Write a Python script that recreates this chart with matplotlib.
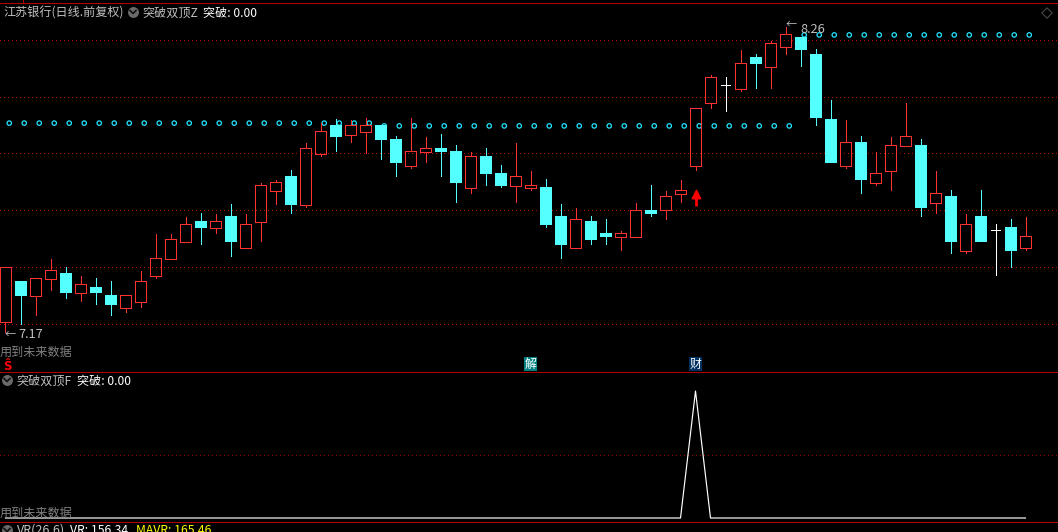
import matplotlib
matplotlib.use("Agg")
import matplotlib.pyplot as plt

plt.rcParams['font.family'] = ['Noto Sans CJK SC', 'DejaVu Sans']

opens = [
    7.206, 7.351, 7.299, 7.359, 7.380, 7.309, 7.330, 7.301, 7.256, 7.277,
    7.370, 7.431, 7.491, 7.565, 7.541, 7.583, 7.470, 7.563, 7.674, 7.726,
    7.624, 7.806, 7.908, 7.874, 7.884, 7.908, 7.858, 7.762, 7.813, 7.826,
    7.815, 7.684, 7.797, 7.737, 7.691, 7.684, 7.687, 7.583, 7.470, 7.565,
    7.522, 7.509, 7.509, 7.605, 7.604, 7.663, 7.763, 7.988, 8.050, 8.038,
    8.151, 8.116, 8.188, 8.223, 8.162, 7.930, 7.763, 7.848, 7.702, 7.745,
    7.834, 7.837, 7.631, 7.655, 7.459, 7.583, 7.532, 7.544, 7.470,
]
closes = [
    7.400, 7.301, 7.361, 7.389, 7.313, 7.339, 7.313, 7.269, 7.300, 7.350,
    7.432, 7.500, 7.554, 7.544, 7.564, 7.494, 7.554, 7.693, 7.704, 7.626,
    7.825, 7.886, 7.869, 7.908, 7.908, 7.858, 7.776, 7.815, 7.826, 7.815,
    7.705, 7.797, 7.737, 7.694, 7.725, 7.693, 7.555, 7.483, 7.571, 7.501,
    7.512, 7.521, 7.604, 7.594, 7.654, 7.675, 7.968, 8.079, 8.050, 8.129,
    8.130, 8.201, 8.232, 8.180, 7.937, 7.776, 7.846, 7.715, 7.736, 7.836,
    7.868, 7.615, 7.664, 7.494, 7.554, 7.494, 7.532, 7.462, 7.511,
]
highs = [
    7.400, 7.351, 7.362, 7.430, 7.400, 7.369, 7.362, 7.351, 7.301, 7.387,
    7.519, 7.519, 7.580, 7.594, 7.590, 7.626, 7.590, 7.701, 7.712, 7.748,
    7.844, 7.915, 7.930, 7.926, 7.933, 7.908, 7.869, 7.933, 7.865, 7.876,
    7.837, 7.812, 7.826, 7.765, 7.844, 7.744, 7.715, 7.626, 7.612, 7.583,
    7.573, 7.530, 7.630, 7.694, 7.673, 7.712, 7.968, 8.087, 8.080, 8.176,
    8.162, 8.208, 8.260, 8.223, 8.180, 7.998, 7.926, 7.869, 7.812, 7.865,
    7.987, 7.858, 7.744, 7.676, 7.590, 7.676, 7.555, 7.573, 7.580,
]
lows = [
    7.170, 7.198, 7.230, 7.319, 7.291, 7.280, 7.269, 7.230, 7.240, 7.258,
    7.362, 7.431, 7.491, 7.483, 7.522, 7.440, 7.470, 7.494, 7.626, 7.594,
    7.615, 7.799, 7.815, 7.849, 7.809, 7.787, 7.726, 7.755, 7.776, 7.726,
    7.633, 7.665, 7.694, 7.687, 7.633, 7.676, 7.544, 7.433, 7.470, 7.483,
    7.483, 7.462, 7.509, 7.583, 7.573, 7.633, 7.748, 7.970, 7.959, 8.030,
    8.040, 8.040, 8.162, 8.119, 7.908, 7.776, 7.755, 7.665, 7.694, 7.676,
    7.834, 7.583, 7.594, 7.451, 7.451, 7.494, 7.373, 7.401, 7.462,
]

# resistance dots, one level per stretch of days
dot_levels = [7.915] * 25 + [7.905] * 28 + [8.230] * 16
grid_levels = [8.211, 8.007, 7.807, 7.604, 7.400, 7.196]
signal = [0] * 46 + [1] + [0] * 22
arrow_low, arrow_high = 7.619, 7.661

RED = "#ff3232"
CYAN = "#54ffff"
GRID = "#c00000"
LINE = "#b00000"
GRAY = "#c0c0c0"
DIM = "#808080"
PX = 0.72  # one pixel in points at dpi 100

W, H = 1058, 532


def pixel_axes(fig, top, bottom):
    ax = fig.add_axes([0, 1 - bottom / H, 1, (bottom - top) / H])
    ax.set_facecolor("black")
    ax.set_xlim(-5.5 / 15, (W - 5.5) / 15)
    ax.set_xticks([])
    ax.set_yticks([])
    for s in ax.spines.values():
        s.set_visible(False)
    return ax


fig = plt.figure(figsize=(W / 100, H / 100), dpi=100, facecolor="black")

ax = pixel_axes(fig, 3, 371)
ax.set_ylim(7.0296, 8.344)

for level in grid_levels:
    ax.axhline(level, color=GRID, lw=PX, ls=(0, (1, 3)), zorder=1, antialiased=False)

ax.scatter([i + 0.25 for i in range(len(dot_levels))], dot_levels, s=10,
           facecolors="none", edgecolors="#22e6ff", linewidths=0.9, zorder=2)

for i in range(len(opens)):
    o, c, h, l = opens[i], closes[i], highs[i], lows[i]
    if o == c:
        ax.vlines(i, l, h, color="white", lw=PX, zorder=3, antialiased=False)
        ax.hlines(o, i - 0.33, i + 0.33, color="white", lw=PX, zorder=3, antialiased=False)
    elif c > o:
        ax.vlines(i, c, h, color=RED, lw=PX, zorder=3, antialiased=False)
        ax.vlines(i, l, o, color=RED, lw=PX, zorder=3, antialiased=False)
        ax.bar(i, c - o, bottom=o, width=0.7, facecolor="none",
               edgecolor=RED, linewidth=PX, zorder=3, antialiased=False)
    else:
        ax.vlines(i, l, h, color=CYAN, lw=PX, zorder=3, antialiased=False)
        ax.bar(i, c - o, bottom=o, width=0.72, facecolor=CYAN,
               edgecolor=CYAN, linewidth=PX, zorder=3, antialiased=False)

# buy arrow under the breakout candle
ax.vlines(46, arrow_low, arrow_high, color="#ff0000", lw=2, zorder=4)
ax.scatter([46], [arrow_high], marker="^", s=38, color="#ff0000", zorder=4)

sub = pixel_axes(fig, 372, 520)
sub.set_ylim(-0.0157, 1.15)
sub.axhline(0.5, color="#a00000", lw=PX, ls=(0, (1, 3)), antialiased=False)
sub.plot(range(len(signal)), signal, color="white", lw=0.85)

# overlay in image pixels for the labels and panel lines
top = fig.add_axes([0, 0, 1, 1], zorder=10)
top.set_xlim(0, W)
top.set_ylim(H, 0)
top.axis("off")
top.patch.set_alpha(0)

for y in [2, 371, 521]:
    top.plot([0, W], [y + 0.5, y + 0.5], color=LINE, lw=PX, antialiased=False)
top.plot([22.5, 22.5], [0, 2], color=LINE, lw=PX, antialiased=False)


def label(x, y, s, color=GRAY, size=8.7, **kw):
    top.text(x, y, s, color=color, fontsize=size, va="baseline", ha="left", **kw)


def chevron(x, y):
    top.scatter([x], [y], s=62, color="#6a6a6a", linewidths=0, clip_on=False)
    top.plot([x - 3, x, x + 3], [y - 1.5, y + 1.5, y - 1.5], color="#101010", lw=1.2,
             clip_on=False)


label(3, 17, "江苏银行(日线.前复权)", size=8.7)
chevron(133, 12)
label(142, 17, "突破双顶Z")
label(203, 17, "突破: 0.00", color="white")
label(5, 338, "←", size=8)
label(18, 338, "7.17", size=9.2)
label(786, 28, "←", size=8)
label(800, 33, "8.26", size=9.2)
label(0, 356, "用到未来数据", color=DIM)
label(3, 370, "Ŝ", color="#ff0000", size=8.5, fontweight="bold")
chevron(7, 380)
label(16, 385, "突破双顶F")
label(77, 385, "突破: 0.00", color="white")
label(0, 517, "用到未来数据", color=DIM)
chevron(7, 530)
label(17, 534, "VR(26,6)", size=9)
label(70, 534, "VR: 156.34", color="white", size=8.8)
label(136, 534, "MAVR: 165.46", color="#ffff00", size=8.8)

top.text(530.5, 364, "解", color="white", fontsize=8.6, ha="center", va="center",
         bbox=dict(boxstyle="square,pad=0.08", facecolor="#007f7f", edgecolor="none"))
top.text(695.5, 364, "财", color="white", fontsize=8.6, ha="center", va="center",
         bbox=dict(boxstyle="square,pad=0.08", facecolor="#003060", edgecolor="none"))
top.scatter([1047], [13], marker="D", s=28, facecolors="none", edgecolors="#505050",
            linewidths=0.7)

fig.savefig("out.png", dpi=100, facecolor="black")
